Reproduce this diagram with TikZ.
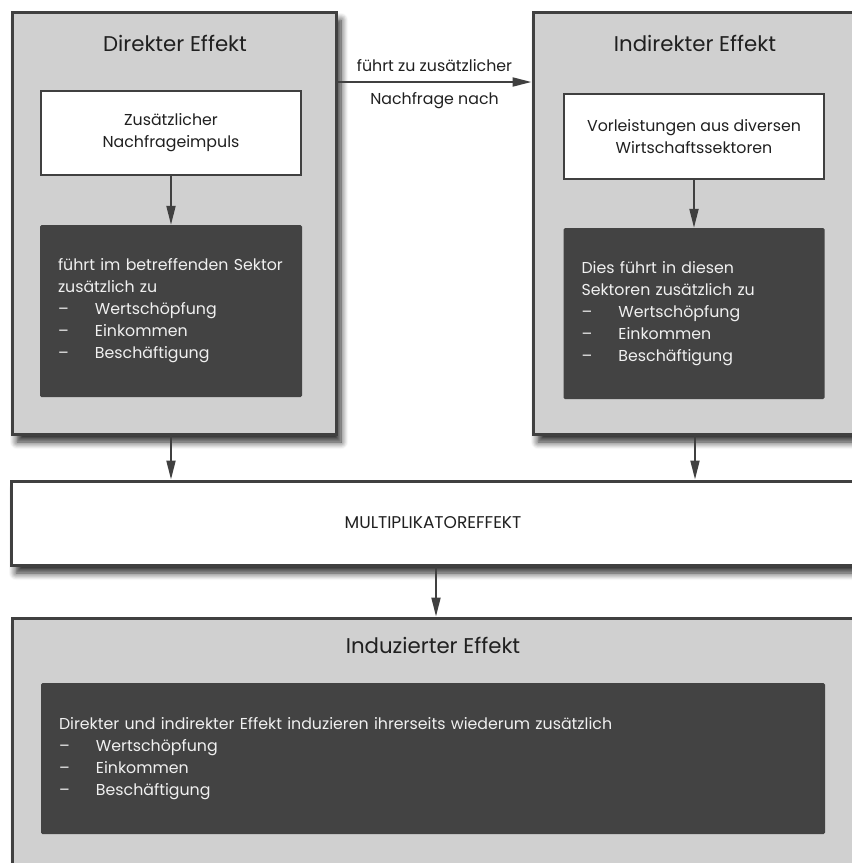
\documentclass[tikz,border=0pt]{standalone}
\usepackage{fontspec}
\setmainfont{Poppins}
\usetikzlibrary{positioning,arrows.meta,shadows.blur}
\definecolor{rand}{HTML}{404040}
\definecolor{hellgrau}{HTML}{D0D0D0}
\definecolor{dunkelgrau}{HTML}{434343}
\definecolor{schrift}{HTML}{202020}
\tikzset{
	kasten/.style={draw=rand,line width=3pt,fill=hellgrau,
		blur shadow={shadow xshift=5pt,shadow yshift=-8pt,shadow blur steps=8,shadow blur radius=7pt,shadow opacity=85}},
	titel/.style={text=schrift,font=\fontsize{21.3}{26}\selectfont},
	weiss/.style={draw=rand,line width=2.5pt,fill=white,text=schrift,align=center,
		minimum width=260pt,minimum height=84pt,font=\fontsize{15.8}{22}\selectfont},
	dunkel/.style={fill=dunkelgrau,rounded corners=1.5pt,text=white!94!black,align=left,
		inner xsep=18pt,font=\fontsize{15.8}{22}\selectfont},
	pfeil/.style={-{Triangle[length=19pt,width=9pt]},line width=2pt,draw=rand}
}
\newcommand{\strich}[1]{\makebox[37pt][l]{--}#1}

\begin{document}
\begin{tikzpicture}[x=1pt,y=-1pt]
	\clip (0,0) rectangle (852,863);
	
	\node[kasten,minimum width=324pt,minimum height=422pt] (direkt) at (174,223) {};
	\node[kasten,minimum width=324pt,minimum height=422pt] (indirekt) at (695,223) {};
	\node[kasten,fill=white,minimum width=844pt,minimum height=84pt,text=schrift,
		font=\fontsize{17}{20}\selectfont] (multi) at (433,523) {MULTIPLIKATOREFFEKT};
	\node[kasten,minimum width=843pt,minimum height=262pt] (induziert) at (433.5,749) {};
	
	\node[titel] (tdirekt) at (175,43) {Direkter Effekt};
	\node[titel] (tindirekt) at (695,43) {Indirekter Effekt};
	\node[titel] (tinduziert) at (433,645) {Induzierter Effekt};
	
	\node[weiss] (impuls) at (171,133) {Zusätzlicher\\Nachfrageimpuls};
	\node[dunkel,text width=226pt,minimum height=172pt] (sektor) at (171,311)
		{führt im betreffenden Sektor\\zusätzlich zu\\\strich{Wertschöpfung}\\\strich{Einkommen}\\\strich{Beschäftigung}};
	
	\node[weiss,minimum height=85pt] (vorleistung) at (694,136.5) {Vorleistungen aus diversen\\Wirtschaftssektoren};
	\node[dunkel,text width=225pt,minimum height=171pt] (diese) at (694,313.5)
		{Dies führt in diesen\\Sektoren zusätzlich zu\\\strich{Wertschöpfung}\\\strich{Einkommen}\\\strich{Beschäftigung}};
	
	\node[dunkel,text width=748pt,minimum height=151pt] (wieder) at (433,758.5)
		{Direkter und indirekter Effekt induzieren ihrerseits wiederum zusätzlich\\\strich{Wertschöpfung}\\\strich{Einkommen}\\\strich{Beschäftigung}};
	
	\draw[pfeil] (impuls) -- (sektor);
	\draw[pfeil] (vorleistung) -- (diese);
	\draw[pfeil] ([yshift=141pt]direkt.east) -- ([yshift=141pt]direkt.east -| indirekt.west)
		node[midway,above=6pt,text=schrift,font=\fontsize{15.8}{22}\selectfont] {führt zu zusätzlicher}
		node[midway,below=6pt,text=schrift,font=\fontsize{15.8}{22}\selectfont] {Nachfrage nach};
	\draw[pfeil] ([xshift=-3pt]direkt.south) -- ([xshift=-3pt]direkt.south |- multi.north);
	\draw[pfeil] (indirekt.south) -- (indirekt.south |- multi.north);
	\draw[pfeil] ([xshift=3pt]multi.south) -- ([xshift=3pt]multi.south |- induziert.north);
\end{tikzpicture}
\end{document}
